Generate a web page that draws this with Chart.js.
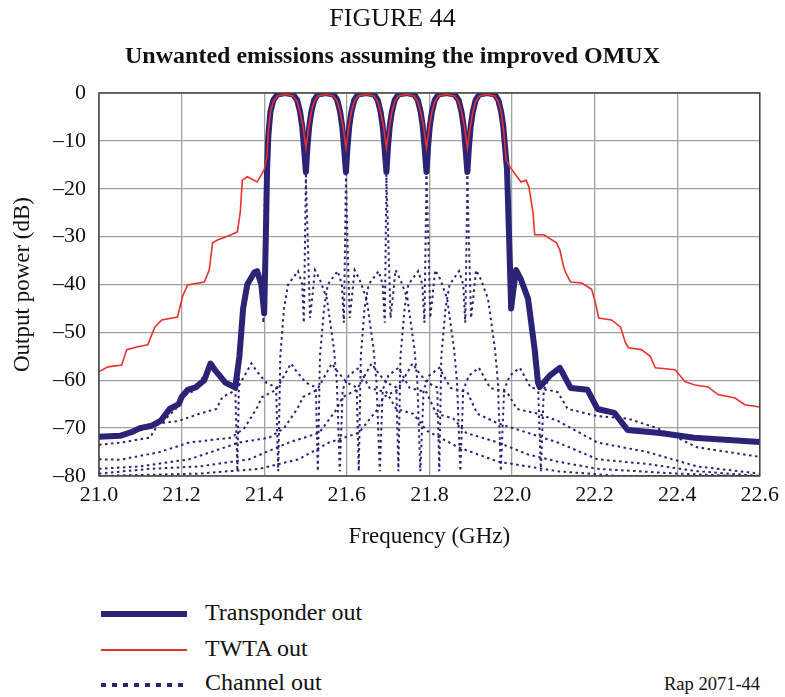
<!DOCTYPE html>
<html>
<head>
<meta charset="utf-8">
<script src="https://cdn.jsdelivr.net/npm/chart.js@4"></script>
<style>
  body { margin: 0; background: #fff; font-family: "Liberation Serif", "Times New Roman", serif; color: #111; }
  #wrap { position: relative; width: 785px; height: 697px; }
  #chart { position: absolute; left: 0; top: 0; }
  .txt { position: absolute; white-space: nowrap; }
  .fig { top: 3px; left: 0; width: 785px; text-align: center; font-size: 26px; }
  .sub { top: 42px; left: 0; width: 785px; text-align: center; font-size: 24px; font-weight: bold; }
  .leg { left: 205px; font-size: 24px; }
  .rap { left: 664px; top: 674px; font-size: 18.5px; }
  .sample { position: absolute; left: 101px; width: 86px; }
</style>
</head>
<body>
<div id="wrap">
  <canvas id="chart" width="785" height="560"></canvas>
  <div class="txt fig">FIGURE 44</div>
  <div class="txt sub">Unwanted emissions assuming the improved OMUX</div>
  <div class="sample" style="top:611px;height:6px;background:#2a2376"></div>
  <div class="txt leg" style="top:599px">Transponder out</div>
  <div class="sample" style="top:649px;height:2px;background:#e8322b"></div>
  <div class="txt leg" style="top:635px">TWTA out</div>
  <div class="sample" style="top:683px;height:4px;background:repeating-linear-gradient(90deg,#2a2376 0 5px,transparent 5px 11px)"></div>
  <div class="txt leg" style="top:669px">Channel out</div>
  <div class="txt rap">Rap 2071-44</div>
</div>
<script>
// frequency in GHz, level in dB
const transponderOut = [
  [21.000,-71.8],[21.051,-71.6],[21.080,-70.8],[21.099,-70],[21.128,-69.5],[21.149,-68.5],[21.171,-66],[21.193,-65],
  [21.200,-63.5],[21.215,-62],[21.234,-61.5],[21.255,-60],[21.270,-56.5],[21.282,-58],[21.306,-60.5],[21.330,-61.5],
  [21.340,-55],[21.349,-45],[21.359,-40],[21.376,-37.5],[21.383,-37.2],[21.393,-40],[21.400,-46],[21.404,-30],
  [21.407,-16],[21.410,-9],[21.415,-4],[21.422,-1.5],[21.432,-0.3],[21.451,0],[21.470,-0.3],[21.480,-1.5],[21.487,-4],[21.492,-7],[21.496,-11],[21.501,-16.5],
  [21.505,-11],[21.509,-7],[21.514,-4],[21.521,-1.5],[21.530,-0.3],[21.549,0],[21.568,-0.3],[21.577,-1.5],[21.584,-4],[21.589,-7],[21.593,-11],[21.598,-16.5],
  [21.602,-11],[21.606,-7],[21.611,-4],[21.618,-1.5],[21.627,-0.3],[21.647,0],[21.666,-0.3],[21.675,-1.5],[21.682,-4],[21.687,-7],[21.691,-11],[21.696,-16.5],
  [21.700,-11],[21.704,-7],[21.709,-4],[21.716,-1.5],[21.725,-0.3],[21.745,0],[21.763,-0.3],[21.772,-1.5],[21.779,-4],[21.784,-7],[21.788,-11],[21.793,-16.5],
  [21.797,-11],[21.801,-7],[21.806,-4],[21.813,-1.5],[21.822,-0.3],[21.842,0],[21.861,-0.3],[21.871,-1.5],[21.878,-4],[21.883,-7],[21.887,-11],[21.892,-16.5],
  [21.896,-11],[21.900,-7],[21.905,-4],[21.912,-1.5],[21.921,-0.3],[21.940,0],[21.958,-0.3],[21.967,-1.5],[21.974,-4],[21.979,-7],[21.983,-11],[21.988,-16],
  [21.993,-30],[21.998,-45],[22.002,-42],[22.010,-37],[22.022,-39],[22.039,-43],[22.055,-53.6],[22.063,-60.5],[22.067,-61.4],
  [22.092,-59],[22.116,-57.4],[22.142,-61.6],[22.183,-62],[22.207,-66],[22.248,-66.8],[22.280,-70.4],[22.359,-71],[22.441,-72],[22.600,-72.9]
];

const twtaOut = [
  [21.000,-58.2],[21.022,-57.2],[21.055,-56.8],[21.067,-53.6],[21.094,-53],[21.118,-52.6],[21.135,-48.9],[21.152,-47.4],
  [21.190,-46.8],[21.202,-42.6],[21.214,-40.1],[21.255,-39.5],[21.267,-37],[21.275,-31.3],[21.287,-30.7],[21.320,-29.6],
  [21.335,-29],[21.342,-25],[21.347,-18.2],[21.359,-17.5],[21.383,-18.6],[21.400,-16],[21.407,-13],
  [21.410,-8],[21.415,-4],[21.422,-1.8],[21.432,-0.6],[21.452,-0.3],[21.470,-0.6],[21.480,-1.8],[21.487,-4],[21.494,-7],[21.501,-11.5],
  [21.508,-7],[21.514,-4],[21.521,-1.8],[21.530,-0.6],[21.549,-0.3],[21.568,-0.6],[21.577,-1.8],[21.584,-4],[21.591,-7],[21.598,-11.5],
  [21.605,-7],[21.611,-4],[21.618,-1.8],[21.627,-0.6],[21.647,-0.3],[21.666,-0.6],[21.675,-1.8],[21.682,-4],[21.689,-7],[21.696,-11.5],
  [21.703,-7],[21.709,-4],[21.716,-1.8],[21.725,-0.6],[21.745,-0.3],[21.763,-0.6],[21.772,-1.8],[21.779,-4],[21.786,-7],[21.793,-11.5],
  [21.800,-7],[21.806,-4],[21.813,-1.8],[21.822,-0.6],[21.842,-0.3],[21.861,-0.6],[21.871,-1.8],[21.878,-4],[21.885,-7],[21.892,-11.5],
  [21.899,-7],[21.905,-4],[21.912,-1.8],[21.921,-0.6],[21.940,-0.3],[21.958,-0.6],[21.967,-1.8],[21.974,-4],[21.980,-8],[21.986,-14],
  [21.997,-15.7],[22.022,-18.6],[22.034,-18.2],[22.041,-19.6],[22.051,-25],[22.055,-29.6],[22.077,-29.6],[22.108,-31.3],
  [22.116,-32.8],[22.125,-36.3],[22.130,-37.5],[22.142,-39.5],[22.169,-39.7],[22.193,-41],[22.202,-43.8],[22.210,-47],
  [22.241,-47.4],[22.263,-48.9],[22.275,-52.2],[22.282,-53.2],[22.313,-53.6],[22.335,-55],[22.347,-57.4],[22.395,-57.8],
  [22.419,-60.3],[22.443,-61],[22.475,-61.4],[22.499,-63],[22.540,-63.7],[22.564,-65.1],[22.600,-65.6]
];

const channel1Out = [
  [21.000,-72],[21.051,-71.8],[21.099,-70.5],[21.149,-69],[21.186,-66],[21.200,-63.5],[21.234,-62],[21.270,-56.5],
  [21.282,-58],[21.306,-60.5],[21.330,-61.5],[21.335,-79],[21.340,-55],[21.349,-45],[21.359,-40],[21.383,-37.2],[21.393,-40],[21.398,-48],
  [21.402,-18],[21.407,-9],[21.414,-4],[21.424,-1.5],[21.434,-0.3],[21.452,0],[21.470,-0.3],[21.480,-1.5],[21.489,-4],[21.496,-9],[21.501,-18],
  [21.506,-32],[21.511,-47],[21.516,-43],[21.523,-37],[21.535,-39],[21.552,-43],[21.569,-53.6],[21.576,-60.5],[21.583,-79],[21.590,-62],
  [21.605,-59],[21.629,-57.4],[21.655,-61.6],[21.696,-62.5],[21.720,-66],[21.761,-67],[21.793,-70.5],[21.870,-74],
  [21.966,-77],[22.111,-79],[22.255,-80],[22.600,-80]
];

const channel2Out = [
  [21.000,-73.5],[21.055,-73],[21.123,-72],[21.145,-69],[21.193,-68.5],[21.243,-67],[21.284,-66],[21.299,-63.5],
  [21.333,-62],[21.369,-56.5],[21.381,-58],[21.405,-60.5],[21.429,-61.5],[21.434,-79],[21.439,-55],[21.448,-45],[21.458,-40],
  [21.482,-37.2],[21.492,-40],[21.496,-48],
  [21.501,-18],[21.506,-9],[21.513,-4],[21.523,-1.5],[21.533,-0.3],[21.549,0],[21.566,-0.3],[21.576,-1.5],[21.586,-4],[21.593,-9],[21.598,-18],
  [21.602,-32],[21.607,-47],[21.612,-43],[21.619,-37],[21.631,-39],[21.648,-43],[21.665,-53.6],[21.672,-60.5],[21.680,-79],[21.687,-62],
  [21.701,-59],[21.725,-57.4],[21.752,-61.6],[21.793,-62.5],[21.817,-67],[21.858,-68],[21.889,-71],[21.966,-73],
  [22.039,-75.5],[22.111,-77],[22.207,-78.5],[22.400,-79.5],[22.545,-80],[22.600,-80]
];

const channel3Out = [
  [21.000,-76.5],[21.051,-76.6],[21.147,-75],[21.219,-73],[21.320,-72],[21.352,-70],[21.381,-66],[21.395,-63.5],
  [21.429,-62],[21.465,-56.5],[21.477,-58],[21.501,-60.5],[21.525,-61.5],[21.530,-79],[21.535,-55],[21.545,-45],[21.554,-40],
  [21.578,-37.2],[21.588,-40],[21.593,-48],
  [21.598,-18],[21.602,-9],[21.610,-4],[21.619,-1.5],[21.629,-0.3],[21.647,0],[21.665,-0.3],[21.675,-1.5],[21.684,-4],[21.692,-9],[21.696,-18],
  [21.701,-32],[21.706,-47],[21.711,-43],[21.718,-37],[21.730,-39],[21.747,-43],[21.764,-53.6],[21.771,-60.5],[21.778,-79],[21.786,-62],
  [21.800,-59],[21.824,-57.4],[21.851,-61.6],[21.892,-62.5],[21.916,-67],[21.966,-69],[22.039,-71],[22.111,-73],
  [22.207,-76.5],[22.328,-77.5],[22.448,-79],[22.600,-80]
];

const channel4Out = [
  [21.000,-78.5],[21.099,-78],[21.219,-76.5],[21.340,-73],[21.412,-72],[21.448,-70],[21.480,-66],[21.494,-63.5],
  [21.528,-62],[21.564,-56.5],[21.576,-58],[21.600,-60.5],[21.624,-61.5],[21.629,-79],[21.634,-55],[21.643,-45],[21.653,-40],
  [21.677,-37.2],[21.687,-40],[21.692,-48],
  [21.696,-18],[21.701,-9],[21.708,-4],[21.718,-1.5],[21.728,-0.3],[21.745,0],[21.761,-0.3],[21.771,-1.5],[21.781,-4],[21.788,-9],[21.793,-18],
  [21.798,-32],[21.802,-47],[21.807,-43],[21.814,-37],[21.827,-39],[21.843,-43],[21.860,-53.6],[21.867,-60.5],[21.875,-79],[21.882,-62],
  [21.896,-59],[21.920,-57.4],[21.947,-61.6],[21.988,-62.5],[22.012,-66],[22.063,-67],[22.111,-68.5],[22.207,-73],
  [22.328,-75],[22.448,-78],[22.600,-79.5]
];

const channel5Out = [
  [21.000,-79.5],[21.123,-78.5],[21.243,-78],[21.364,-76.5],[21.460,-73],[21.533,-71],[21.576,-66],[21.590,-63.5],
  [21.624,-62],[21.660,-56.5],[21.672,-58],[21.696,-60.5],[21.720,-61.5],[21.725,-79],[21.730,-55],[21.740,-45],[21.749,-40],
  [21.773,-37.2],[21.783,-40],[21.788,-48],
  [21.793,-18],[21.798,-9],[21.805,-4],[21.814,-1.5],[21.824,-0.3],[21.842,0],[21.860,-0.3],[21.870,-1.5],[21.880,-4],[21.887,-9],[21.892,-18],
  [21.896,-32],[21.901,-47],[21.906,-43],[21.913,-37],[21.925,-39],[21.942,-43],[21.959,-53.6],[21.966,-60.5],[21.973,-79],[21.981,-62],
  [21.995,-59],[22.019,-57.4],[22.046,-61.6],[22.087,-62],[22.111,-62.5],[22.135,-66],[22.207,-67.5],[22.280,-68],
  [22.352,-70],[22.448,-74],[22.600,-76]
];

const channel6Out = [
  [21.000,-80],[21.243,-79.5],[21.388,-78.5],[21.484,-76.5],[21.557,-73],[21.629,-71],[21.675,-66],[21.689,-63.5],
  [21.723,-62],[21.759,-56.5],[21.771,-58],[21.795,-60.5],[21.819,-61.5],[21.824,-79],[21.829,-55],[21.839,-45],[21.849,-40],
  [21.872,-37.2],[21.882,-40],[21.887,-48],
  [21.892,-18],[21.896,-9],[21.904,-4],[21.913,-1.5],[21.923,-0.3],[21.940,0],[21.957,-0.3],[21.966,-1.5],[21.976,-4],[21.983,-9],[21.988,-18],
  [21.993,-32],[21.998,-45],[22.002,-42],[22.010,-37],[22.022,-39],[22.039,-43],[22.055,-53.6],[22.063,-60.5],[22.070,-79],[22.077,-62],
  [22.092,-59],[22.116,-57.4],[22.142,-61.6],[22.183,-62],[22.207,-66],[22.248,-66.8],[22.280,-70.4],[22.359,-71],[22.441,-72],[22.600,-72.9]
];

const channelOuts = [channel1Out, channel2Out, channel3Out, channel4Out, channel5Out, channel6Out];

const navy = "#2a2376";
const red = "#e8322b";
const serif = "'Liberation Serif', 'Times New Roman', serif";

const toPoints = (arr) => arr.map(([x, y]) => ({ x, y }));

const datasets = [
  { label: "TWTA out", data: toPoints(twtaOut), borderColor: red, borderWidth: 1.6 },
  { label: "Transponder out", data: toPoints(transponderOut), borderColor: navy, borderWidth: 6,
    borderJoinStyle: "round", borderCapStyle: "round" },
  ...channelOuts.map((ch, i) => ({
    label: `Channel ${i + 1} out`,
    data: toPoints(ch),
    borderColor: navy,
    borderWidth: 2,
    borderDash: [2.5, 3.5],
  })),
].map((d) => ({ ...d, pointRadius: 0, tension: 0, fill: false }));

const frame = {
  id: "frame",
  afterDatasetsDraw(chart) {
    const { ctx, chartArea: a } = chart;
    ctx.save();
    ctx.strokeStyle = "#444";
    ctx.lineWidth = 1.5;
    ctx.strokeRect(a.left, a.top, a.right - a.left, a.bottom - a.top);
    ctx.restore();
  },
};

new Chart(document.getElementById("chart").getContext("2d"), {
  type: "line",
  data: { datasets },
  plugins: [frame],
  options: {
    responsive: false,
    animation: false,
    layout: { padding: { top: 93, right: 22, left: 9, bottom: 9 } },
    plugins: { legend: { display: false }, tooltip: { enabled: false } },
    scales: {
      x: {
        type: "linear",
        min: 21,
        max: 22.6,
        afterFit: (s) => { s.height = 75; },
        ticks: {
          stepSize: 0.2,
          padding: 6,
          color: "#111",
          font: { family: serif, size: 22 },
          callback: (v) => v.toFixed(1),
        },
        grid: { color: "#a0a0a0", lineWidth: 1.3, drawTicks: false },
        border: { display: false },
        title: { display: true, text: "Frequency (GHz)", color: "#111", padding: 0,
          font: { family: serif, size: 23 } },
      },
      y: {
        min: -80,
        max: 0,
        afterFit: (s) => { s.width = 90; },
        ticks: {
          stepSize: 10,
          padding: 13,
          color: "#111",
          font: { family: serif, size: 22 },
          callback: (v) => String(v).replace("-", "\u2013"),
        },
        grid: { color: "#a0a0a0", lineWidth: 1.3, drawTicks: false },
        border: { display: false },
        title: { display: true, text: "Output power (dB)", color: "#111", padding: 0,
          font: { family: serif, size: 23 } },
      },
    },
  },
});
</script>
</body>
</html>
